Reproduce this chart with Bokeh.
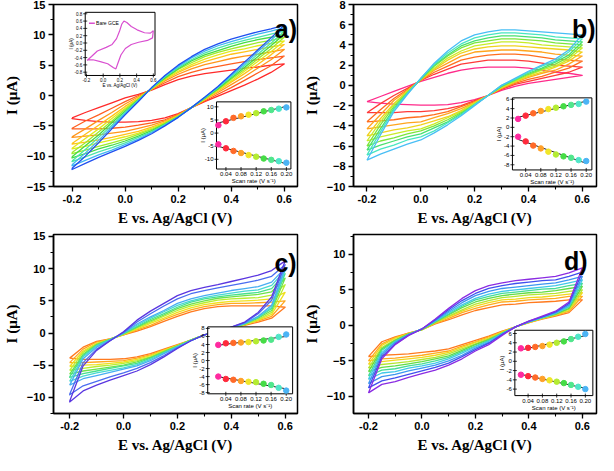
import numpy as np
from bokeh.plotting import figure
from bokeh.models import Range1d, FixedTicker, Label, PrintfTickFormatter
from bokeh.layouts import gridplot
from bokeh.embed import file_html
from bokeh.resources import INLINE
from bokeh.core.properties import value

# ---------------- data ----------------
E_GRID = [-0.2, -0.15, -0.1, -0.05, 0.0, 0.05, 0.1, 0.15, 0.2, 0.25, 0.3,
          0.35, 0.4, 0.45, 0.5, 0.55, 0.6]
SCAN_RATE = [0.02, 0.04, 0.06, 0.08, 0.10, 0.12, 0.14, 0.16, 0.18, 0.20]

# panel a: forward (upper) and reverse (lower) branches, I (uA) at E_GRID
A_UP = [
    [-3.7, -2.8, -2.0, -1.2, -0.4, 0.2, 0.9, 1.8, 2.6, 3.2, 3.6, 3.9, 4.2, 4.5, 4.7, 5.0, 5.2],
    [-5.4, -4.2, -3.2, -2.1, -1.0, 0.0, 1.0, 2.1, 3.1, 3.8, 4.4, 4.8, 5.2, 5.6, 5.9, 6.2, 6.5],
    [-6.8, -5.5, -4.1, -2.8, -1.4, -0.2, 1.0, 2.4, 3.5, 4.4, 5.1, 5.6, 6.1, 6.5, 6.8, 7.2, 7.6],
    [-7.9, -6.4, -4.9, -3.4, -1.8, -0.4, 1.1, 2.6, 3.8, 4.8, 5.6, 6.2, 6.8, 7.2, 7.6, 8.0, 8.4],
    [-8.7, -7.1, -5.5, -3.8, -2.1, -0.5, 1.1, 2.7, 4.0, 5.1, 6.0, 6.7, 7.3, 7.7, 8.2, 8.6, 9.0],
    [-9.4, -7.8, -6.0, -4.2, -2.3, -0.6, 1.2, 2.8, 4.3, 5.4, 6.4, 7.1, 7.7, 8.2, 8.7, 9.1, 9.6],
    [-10.1, -8.3, -6.5, -4.5, -2.6, -0.7, 1.2, 2.9, 4.4, 5.7, 6.7, 7.4, 8.1, 8.7, 9.2, 9.6, 10.1],
    [-10.8, -8.9, -6.9, -4.9, -2.8, -0.8, 1.2, 3.1, 4.6, 5.9, 7.0, 7.8, 8.5, 9.1, 9.6, 10.1, 10.6],
    [-11.4, -9.5, -7.4, -5.2, -3.0, -0.9, 1.3, 3.2, 4.8, 6.2, 7.3, 8.2, 8.9, 9.5, 10.1, 10.6, 11.2],
    [-12.0, -10.0, -7.8, -5.5, -3.2, -1.0, 1.3, 3.3, 5.0, 6.4, 7.6, 8.5, 9.3, 9.9, 10.5, 11.0, 11.6],
]
A_LO = [
    [-3.8, -4.1, -4.3, -4.4, -4.4, -4.3, -4.1, -3.7, -3.0, -2.0, -1.0, -0.1, 0.8, 1.7, 2.7, 3.8, 5.2],
    [-5.5, -5.5, -5.5, -5.4, -5.2, -4.9, -4.5, -4.0, -3.1, -2.0, -0.9, 0.2, 1.3, 2.5, 3.7, 4.9, 6.5],
    [-6.9, -6.7, -6.5, -6.2, -5.9, -5.4, -4.9, -4.2, -3.2, -2.0, -0.7, 0.5, 1.8, 3.1, 4.5, 5.9, 7.6],
    [-8.0, -7.7, -7.3, -6.9, -6.4, -5.9, -5.2, -4.4, -3.3, -2.0, -0.7, 0.7, 2.2, 3.6, 5.1, 6.7, 8.4],
    [-8.8, -8.4, -7.8, -7.3, -6.8, -6.2, -5.4, -4.5, -3.4, -2.0, -0.6, 0.9, 2.4, 4.0, 5.6, 7.2, 9.0],
    [-9.6, -9.0, -8.4, -7.8, -7.2, -6.4, -5.6, -4.6, -3.4, -2.0, -0.5, 1.0, 2.7, 4.3, 6.0, 7.7, 9.6],
    [-10.3, -9.6, -8.8, -8.2, -7.5, -6.7, -5.8, -4.7, -3.5, -2.0, -0.5, 1.1, 2.9, 4.6, 6.4, 8.2, 10.1],
    [-10.9, -10.1, -9.3, -8.6, -7.8, -6.9, -6.0, -4.8, -3.5, -2.0, -0.4, 1.3, 3.1, 4.9, 6.8, 8.6, 10.6],
    [-11.6, -10.7, -9.8, -9.0, -8.1, -7.2, -6.1, -4.9, -3.6, -2.0, -0.3, 1.4, 3.3, 5.2, 7.2, 9.1, 11.2],
    [-12.2, -11.2, -10.2, -9.3, -8.4, -7.4, -6.3, -5.0, -3.6, -2.0, -0.3, 1.5, 3.5, 5.5, 7.5, 9.5, 11.6],
]
B_UP = [
    [-1.6, -1.1, -0.6, -0.1, 0.4, 0.8, 1.2, 1.5, 1.7, 1.8, 1.8, 1.8, 1.7, 1.5, 1.3, 1.2, 1.0],
    [-2.7, -1.8, -1.0, -0.3, 0.5, 1.1, 1.6, 2.1, 2.3, 2.5, 2.5, 2.5, 2.4, 2.2, 2.0, 1.9, 1.8],
    [-3.6, -2.4, -1.3, -0.4, 0.5, 1.3, 1.9, 2.5, 2.8, 3.0, 3.1, 3.1, 3.0, 2.8, 2.6, 2.5, 2.4],
    [-4.3, -2.9, -1.5, -0.5, 0.5, 1.5, 2.2, 2.9, 3.3, 3.4, 3.5, 3.5, 3.4, 3.3, 3.1, 3.0, 2.9],
    [-5.0, -3.3, -1.8, -0.6, 0.6, 1.6, 2.5, 3.2, 3.6, 3.8, 3.9, 3.9, 3.8, 3.7, 3.6, 3.5, 3.3],
    [-5.5, -3.6, -1.9, -0.6, 0.6, 1.7, 2.7, 3.4, 3.9, 4.1, 4.3, 4.3, 4.2, 4.0, 3.9, 3.8, 3.7],
    [-6.0, -3.9, -2.1, -0.7, 0.6, 1.9, 2.9, 3.7, 4.2, 4.4, 4.6, 4.6, 4.5, 4.4, 4.2, 4.1, 4.0],
    [-6.4, -4.3, -2.3, -0.8, 0.6, 2.0, 3.0, 3.9, 4.4, 4.7, 4.9, 4.9, 4.8, 4.7, 4.5, 4.4, 4.3],
    [-6.9, -4.6, -2.4, -0.8, 0.7, 2.1, 3.2, 4.1, 4.7, 5.0, 5.2, 5.2, 5.1, 5.0, 4.8, 4.7, 4.6],
    [-7.4, -4.9, -2.6, -0.9, 0.7, 2.2, 3.4, 4.4, 5.0, 5.3, 5.5, 5.5, 5.4, 5.3, 5.2, 5.1, 5.0],
]
B_LO = [
    [-1.6, -1.75, -1.85, -1.9, -1.95, -1.95, -1.9, -1.7, -1.4, -1.0, -0.5, -0.1, 0.2, 0.4, 0.6, 0.8, 1.0],
    [-2.7, -2.7, -2.7, -2.6, -2.6, -2.5, -2.3, -2.0, -1.5, -1.0, -0.4, 0.1, 0.4, 0.7, 1.0, 1.3, 1.8],
    [-3.6, -3.5, -3.4, -3.2, -3.1, -2.9, -2.6, -2.1, -1.6, -1.0, -0.3, 0.2, 0.6, 0.9, 1.3, 1.7, 2.4],
    [-4.3, -4.1, -3.9, -3.7, -3.6, -3.2, -2.8, -2.3, -1.7, -1.0, -0.3, 0.3, 0.8, 1.2, 1.5, 2.1, 2.9],
    [-5.0, -4.7, -4.4, -4.2, -3.9, -3.5, -3.1, -2.5, -1.7, -1.0, -0.2, 0.4, 0.9, 1.3, 1.8, 2.4, 3.3],
    [-5.5, -5.1, -4.8, -4.5, -4.3, -3.8, -3.2, -2.6, -1.8, -1.0, -0.2, 0.4, 1.0, 1.5, 1.9, 2.6, 3.7],
    [-6.0, -5.5, -5.2, -4.8, -4.5, -4.0, -3.4, -2.7, -1.9, -1.0, -0.1, 0.5, 1.1, 1.6, 2.1, 2.8, 4.0],
    [-6.4, -5.9, -5.5, -5.1, -4.8, -4.2, -3.6, -2.8, -1.9, -1.0, -0.1, 0.6, 1.2, 1.7, 2.3, 3.0, 4.3],
    [-6.9, -6.3, -5.9, -5.4, -5.1, -4.5, -3.7, -2.9, -1.9, -1.0, 0.0, 0.6, 1.3, 1.9, 2.4, 3.3, 4.6],
    [-7.4, -6.8, -6.3, -5.8, -5.4, -4.7, -3.9, -3.0, -2.0, -1.0, 0.0, 0.7, 1.4, 2.0, 2.6, 3.5, 5.0],
]
C_UP = [
    [-3.9, -2.2, -1.3, -0.9, -0.3, 0.3, 1.0, 1.8, 2.6, 3.3, 3.8, 4.1, 4.2, 4.2, 4.2, 4.2, 4.0],
    [-4.6, -2.5, -1.4, -0.9, -0.3, 0.5, 1.2, 2.1, 2.9, 3.6, 4.1, 4.4, 4.6, 4.6, 4.7, 4.8, 5.0],
    [-5.2, -2.8, -1.6, -1.0, -0.2, 0.6, 1.5, 2.3, 3.2, 3.9, 4.4, 4.7, 4.9, 5.0, 5.1, 5.3, 6.3],
    [-5.8, -3.0, -1.7, -1.0, -0.2, 0.8, 1.7, 2.6, 3.5, 4.2, 4.7, 5.1, 5.3, 5.4, 5.5, 5.9, 7.5],
    [-6.4, -3.3, -1.8, -1.0, -0.1, 0.9, 1.9, 2.8, 3.8, 4.5, 5.0, 5.4, 5.6, 5.8, 6.0, 6.4, 8.5],
    [-6.8, -3.5, -1.9, -1.0, -0.1, 1.0, 2.1, 3.0, 4.0, 4.8, 5.3, 5.6, 5.9, 6.1, 6.3, 6.9, 9.2],
    [-7.5, -3.7, -2.0, -1.1, 0.0, 1.2, 2.3, 3.3, 4.3, 5.0, 5.5, 5.9, 6.2, 6.5, 6.7, 7.4, 9.7],
    [-8.1, -4.0, -2.2, -1.1, 0.0, 1.4, 2.5, 3.5, 4.6, 5.3, 5.8, 6.2, 6.6, 6.9, 7.2, 7.9, 10.1],
    [-9.5, -4.6, -2.5, -1.2, 0.1, 1.7, 3.0, 4.2, 5.3, 6.1, 6.6, 7.0, 7.4, 7.8, 8.2, 8.8, 10.6],
    [-10.6, -5.1, -2.7, -1.2, 0.2, 2.0, 3.4, 4.6, 5.8, 6.6, 7.1, 7.5, 8.0, 8.5, 9.0, 9.7, 11.2],
]
C_LO = [
    [-3.9, -4.1, -4.1, -4.1, -4.0, -3.7, -3.2, -2.5, -1.8, -1.1, -0.3, 0.2, 0.7, 1.2, 1.7, 2.3, 4.0],
    [-4.6, -4.6, -4.5, -4.4, -4.3, -3.9, -3.4, -2.6, -1.9, -1.1, -0.3, 0.2, 0.7, 1.3, 1.9, 2.6, 5.0],
    [-5.2, -5.0, -4.9, -4.7, -4.5, -4.1, -3.5, -2.7, -1.9, -1.1, -0.3, 0.2, 0.7, 1.3, 2.0, 2.9, 6.3],
    [-5.8, -5.5, -5.2, -5.0, -4.7, -4.3, -3.7, -2.8, -2.0, -1.1, -0.3, 0.2, 0.8, 1.3, 2.1, 3.2, 7.5],
    [-6.4, -5.9, -5.6, -5.3, -5.0, -4.5, -3.8, -2.9, -2.0, -1.1, -0.3, 0.2, 0.8, 1.4, 2.3, 3.5, 8.5],
    [-6.9, -6.3, -5.9, -5.5, -5.1, -4.7, -3.9, -3.0, -2.1, -1.1, -0.3, 0.2, 0.8, 1.4, 2.4, 3.8, 9.2],
    [-7.5, -6.7, -6.2, -5.8, -5.4, -4.9, -4.1, -3.1, -2.1, -1.2, -0.3, 0.2, 0.8, 1.5, 2.5, 4.0, 9.7],
    [-8.1, -7.1, -6.6, -6.1, -5.6, -5.1, -4.3, -3.2, -2.2, -1.2, -0.3, 0.2, 0.8, 1.5, 2.6, 4.3, 10.1],
    [-9.6, -8.2, -7.5, -6.8, -6.2, -5.5, -4.6, -3.5, -2.3, -1.2, -0.3, 0.2, 0.9, 1.6, 3.0, 5.1, 10.6],
    [-10.7, -9.0, -8.1, -7.3, -6.6, -5.9, -4.9, -3.7, -2.4, -1.2, -0.3, 0.3, 0.9, 1.7, 3.2, 5.6, 11.2],
]
D_UP = [
    [-4.4, -2.3, -1.6, -1.1, -0.6, 0.2, 0.8, 1.5, 2.1, 2.5, 2.9, 3.0, 3.2, 3.3, 3.4, 3.6, 3.6],
    [-5.0, -2.6, -1.7, -1.1, -0.6, 0.3, 1.0, 1.8, 2.4, 2.9, 3.3, 3.4, 3.6, 3.7, 3.8, 4.1, 4.1],
    [-5.5, -2.8, -1.8, -1.2, -0.6, 0.4, 1.2, 2.0, 2.7, 3.2, 3.6, 3.7, 3.9, 4.0, 4.2, 4.4, 4.6],
    [-6.0, -3.1, -2.0, -1.2, -0.6, 0.4, 1.3, 2.2, 3.0, 3.5, 3.9, 4.1, 4.3, 4.4, 4.5, 4.8, 5.0],
    [-6.5, -3.3, -2.1, -1.2, -0.6, 0.5, 1.5, 2.5, 3.3, 3.8, 4.2, 4.4, 4.6, 4.7, 4.9, 5.2, 5.5],
    [-7.1, -3.5, -2.2, -1.3, -0.5, 0.6, 1.6, 2.7, 3.6, 4.1, 4.5, 4.7, 4.9, 5.1, 5.2, 5.6, 5.9],
    [-7.6, -3.8, -2.3, -1.3, -0.5, 0.6, 1.8, 2.9, 3.8, 4.4, 4.8, 5.0, 5.2, 5.4, 5.6, 6.0, 6.4],
    [-8.2, -4.1, -2.4, -1.3, -0.5, 0.7, 2.0, 3.2, 4.2, 4.8, 5.2, 5.4, 5.6, 5.8, 6.0, 6.4, 6.9],
    [-8.8, -4.4, -2.6, -1.4, -0.5, 0.8, 2.2, 3.5, 4.5, 5.2, 5.6, 5.9, 6.1, 6.3, 6.4, 6.9, 7.5],
    [-9.5, -4.7, -2.7, -1.4, -0.5, 0.9, 2.4, 3.8, 4.9, 5.6, 6.0, 6.3, 6.5, 6.7, 6.9, 7.4, 8.1],
]
D_LO = [
    [-4.4, -4.2, -4.1, -4.0, -3.8, -3.6, -3.3, -2.7, -2.1, -1.5, -0.8, -0.2, 0.4, 0.9, 1.3, 1.8, 3.6],
    [-5.0, -4.7, -4.6, -4.4, -4.2, -3.9, -3.6, -2.9, -2.3, -1.6, -0.9, -0.2, 0.4, 1.0, 1.4, 2.0, 4.1],
    [-5.5, -5.1, -4.9, -4.7, -4.5, -4.2, -3.8, -3.1, -2.4, -1.8, -0.9, -0.2, 0.4, 1.0, 1.5, 2.1, 4.6],
    [-6.0, -5.5, -5.3, -5.1, -4.8, -4.5, -4.0, -3.3, -2.6, -1.9, -1.0, -0.2, 0.5, 1.0, 1.5, 2.3, 5.0],
    [-6.5, -5.9, -5.7, -5.4, -5.1, -4.7, -4.3, -3.5, -2.7, -2.0, -1.1, -0.2, 0.5, 1.1, 1.6, 2.4, 5.5],
    [-7.1, -6.3, -6.1, -5.7, -5.4, -5.0, -4.5, -3.7, -2.9, -2.1, -1.1, -0.2, 0.5, 1.1, 1.7, 2.6, 5.9],
    [-7.6, -6.7, -6.5, -6.0, -5.7, -5.3, -4.7, -3.9, -3.0, -2.2, -1.2, -0.2, 0.5, 1.1, 1.7, 2.7, 6.4],
    [-8.2, -7.2, -6.9, -6.4, -6.0, -5.6, -5.0, -4.2, -3.2, -2.4, -1.2, -0.2, 0.5, 1.2, 1.8, 2.9, 6.9],
    [-8.8, -7.8, -7.4, -6.9, -6.4, -5.9, -5.3, -4.4, -3.4, -2.5, -1.3, -0.2, 0.6, 1.2, 1.9, 3.1, 7.5],
    [-9.5, -8.3, -7.9, -7.3, -6.8, -6.3, -5.6, -4.7, -3.6, -2.7, -1.4, -0.2, 0.6, 1.3, 2.0, 3.3, 8.1],
]

# inset peak currents vs scan rate
A_IPA = [3.0, 4.5, 5.8, 6.4, 7.0, 7.6, 8.3, 8.8, 9.3, 9.8]
A_IPC = [-4.3, -5.8, -6.8, -7.6, -8.4, -9.0, -9.7, -10.2, -10.7, -11.3]
B_IPA = [1.8, 2.5, 3.0, 3.5, 3.9, 4.2, 4.5, 4.8, 5.0, 5.5]
B_IPC = [-2.0, -3.0, -3.9, -4.5, -5.2, -5.8, -6.2, -6.5, -7.0, -7.2]
C_IPA = [3.9, 4.3, 4.4, 4.5, 4.6, 4.8, 5.0, 5.2, 5.9, 6.5]
C_IPC = [-4.0, -4.6, -4.8, -5.1, -5.3, -5.4, -5.8, -6.1, -6.8, -7.5]
D_IPA = [2.8, 2.9, 3.1, 3.3, 3.6, 4.0, 4.3, 4.8, 5.3, 5.9]
D_IPC = [-2.9, -3.2, -3.5, -3.8, -4.1, -4.4, -4.7, -5.1, -5.5, -6.0]

# bare GCE inset (panel a)
GCE_E = [-0.193, -0.14, -0.07, 0.036, 0.107, 0.16, 0.195, 0.223, 0.248, 0.283, 0.336,
         0.406, 0.494, 0.565, 0.6, 0.59, 0.53, 0.424, 0.336, 0.265, 0.212, 0.177,
         0.152, 0.124, 0.054, -0.034, -0.122, -0.182, -0.193]
GCE_I = [-0.48, -0.37, -0.22, -0.12, -0.04, 0.12, 0.32, 0.52, 0.60, 0.56, 0.45,
         0.36, 0.28, 0.27, 0.34, 0.14, 0.07, 0.02, -0.04, -0.15, -0.33, -0.55,
         -0.71, -0.68, -0.57, -0.51, -0.46, -0.46, -0.48]

A_COLORS = ["#ff2a2a", "#ff5e1f", "#ff961a", "#ffc21a", "#e4ea1c", "#9eea2c",
            "#44dc44", "#4ee6a6", "#3fb6f2", "#2050f0"]
B_COLORS = ["#ff2a8a", "#ff3a3a", "#ff6e1e", "#ffa51e", "#f0d21e", "#c8ec28",
            "#7ce63c", "#48e070", "#48e6c0", "#48bef5"]
C_COLORS = ["#ff7a1e", "#ffa81e", "#f0e01e", "#b8ee30", "#6ee24a", "#48e08c",
            "#48d8d0", "#48aef2", "#4a6cf0", "#5a36e0"]
D_COLORS = ["#ff7a1e", "#ffaa1e", "#f2d81e", "#b4e632", "#62dc46", "#46dc96",
            "#40c8e8", "#3c96f0", "#4050ee", "#8a2be2"]
INSET_COLORS = ["#ff2aa0", "#ff2a3c", "#ff6a28", "#ffa028", "#f0e628", "#b4ec32",
                "#46dc46", "#50e68c", "#50e6c8", "#4bb4f5"]

SANS = "Liberation Sans"
SERIF = "Liberation Serif"


def make_panel(up, lo, colors, xr, yr, yticks, yminor, letter, letter_xy,
               width, height, bl, br, bt, bb):
    p = figure(width=width, height=height, output_backend="svg",
               toolbar_location=None, x_range=Range1d(*xr), y_range=Range1d(*yr),
               min_border_left=bl, min_border_right=br, min_border_top=bt,
               min_border_bottom=bb)
    p.grid.visible = False
    p.outline_line_color = "black"
    p.outline_line_width = 1.5
    p.background_fill_color = "white"
    p.border_fill_color = "white"
    p.xaxis.ticker = FixedTicker(ticks=[-0.2, 0.0, 0.2, 0.4, 0.6],
                                 minor_ticks=[-0.2, -0.1, 0.0, 0.1, 0.2, 0.3, 0.4, 0.5, 0.6])
    p.xaxis.formatter = PrintfTickFormatter(format="%.1f")
    p.yaxis.ticker = FixedTicker(ticks=yticks, minor_ticks=yminor)
    for ax in (p.xaxis, p.yaxis):
        ax.axis_line_width = 1.5
        ax.major_tick_line_width = 1.3
        ax.minor_tick_line_width = 1.1
        ax.major_tick_out = 5
        ax.major_tick_in = 0
        ax.minor_tick_out = 3
        ax.minor_tick_in = 0
        ax.major_label_text_font = SANS
        ax.major_label_text_font_style = "bold"
        ax.major_label_text_font_size = "11px"
        ax.major_label_text_color = "black"
        ax.major_label_standoff = 3
        ax.axis_label_text_font = SERIF
        ax.axis_label_text_font_style = "bold"
        ax.axis_label_text_font_size = "15px"
        ax.axis_label_text_color = "black"
        ax.axis_label_standoff = 4
    p.xaxis.axis_label = "E vs. Ag/AgCl (V)"
    p.yaxis.axis_label = "I (\u03bcA)"

    for u, l, c in zip(up, lo, colors):
        xs = list(E_GRID) + list(E_GRID[::-1]) + [E_GRID[0]]
        ys = list(u) + list(l[::-1]) + [u[0]]
        p.line(xs, ys, line_color=c, line_width=1.3, line_join="round")

    p.add_layout(Label(x=letter_xy[0], y=letter_xy[1], text=letter,
                       text_align="right", text_baseline="top",
                       text_font=SANS, text_font_style="bold",
                       text_font_size="25px", text_color="black"))
    return p


def add_inset(p, name, frac, xr, yr):
    fx0, fx1, fy0, fy1 = frac
    sx = (xr[1] - xr[0]) / (fx1 - fx0)
    sy = (yr[1] - yr[0]) / (fy1 - fy0)
    p.extra_x_ranges = {**p.extra_x_ranges,
                        name: Range1d(xr[0] - fx0 * sx, xr[0] + (1 - fx0) * sx)}
    p.extra_y_ranges = {**p.extra_y_ranges,
                        name: Range1d(yr[0] - fy0 * sy, yr[0] + (1 - fy0) * sy)}
    kw = dict(x_range_name=name, y_range_name=name)
    p.quad(left=[xr[0]], right=[xr[1]], bottom=[yr[0]], top=[yr[1]],
           fill_color="white", line_color="black", line_width=1, **kw)
    return kw


def inset_axes(p, kw, xr, yr, xticks, xlabels, yticks, ylabels, xlab, ylab,
               fs="6px", ylab_off=-13, xlab_off=12):
    p.scatter(x=[xr[0]] * len(yticks), y=yticks, marker="dash", size=4,
              line_color="black", line_width=0.8, **kw)
    p.scatter(x=xticks, y=[yr[0]] * len(xticks), marker="dash", angle=np.pi / 2,
              size=4, line_color="black", line_width=0.8, **kw)
    p.text(x=[xr[0]] * len(yticks), y=yticks, text=ylabels, x_offset=-3,
           text_align="right", text_baseline="middle", text_font_size=fs,
           text_font=value(SANS), text_color="black", **kw)
    p.text(x=xticks, y=[yr[0]] * len(xticks), text=xlabels, y_offset=5,
           text_align="center", text_baseline="middle", text_font_size=fs,
           text_font=value(SANS), text_color="black", **kw)
    p.text(x=[xr[0]], y=[(yr[0] + yr[1]) / 2], text=[ylab], angle=np.pi / 2,
           x_offset=ylab_off, text_align="center", text_baseline="middle",
           text_font_size=fs, text_font=value(SANS), text_color="black", **kw)
    p.text(x=[(xr[0] + xr[1]) / 2], y=[yr[0]], text=[xlab], y_offset=xlab_off,
           text_align="center", text_baseline="middle", text_font_size=fs,
           text_font=value(SANS), text_color="black", **kw)


def scan_inset(p, name, frac, xr, yr, yticks, ipa, ipc):
    kw = add_inset(p, name, frac, xr, yr)
    xt = [0.04, 0.08, 0.12, 0.16, 0.20]
    inset_axes(p, kw, xr, yr, xt, ["%.2f" % v for v in xt], yticks,
               ["%d" % v for v in yticks], "Scan rate (V s\u207b\u00b9)", "I (\u03bcA)")
    for vals in (ipa, ipc):
        m, b = np.polyfit(SCAN_RATE, vals, 1)
        lx = [SCAN_RATE[0], SCAN_RATE[-1]]
        p.line(lx, [m * v + b for v in lx], line_color="#222222", line_width=1, **kw)
        p.scatter(SCAN_RATE, vals, size=5.5, fill_color=INSET_COLORS,
                  line_color=INSET_COLORS, **kw)


# ---------------- panels ----------------
pa = make_panel(A_UP, A_LO, A_COLORS, (-0.27, 0.65), (-15, 15),
                [-15, -10, -5, 0, 5, 10, 15],
                [-15, -12.5, -10, -7.5, -5, -2.5, 0, 2.5, 5, 7.5, 10, 12.5, 15],
                "a)", (0.648, 13.3), 300, 228, 39, 3, 4, 40)
pb = make_panel(B_UP, B_LO, B_COLORS, (-0.25, 0.653), (-10, 8),
                [-10, -8, -6, -4, -2, 0, 2, 4, 6, 8],
                [-10, -9, -8, -7, -6, -5, -4, -3, -2, -1, 0, 1, 2, 3, 4, 5, 6, 7, 8],
                "b)", (0.65, 7.0), 298, 228, 47, 2, 4, 40)
pc = make_panel(C_UP, C_LO, C_COLORS, (-0.26, 0.646), (-12.5, 15.3),
                [-10, -5, 0, 5, 10, 15],
                [-12.5, -10, -7.5, -5, -2.5, 0, 2.5, 5, 7.5, 10, 12.5, 15],
                "c)", (0.643, 13.0), 300, 227, 39, 3, 6, 40)
pd = make_panel(D_UP, D_LO, D_COLORS, (-0.256, 0.653), (-12.4, 12.8),
                [-10, -5, 0, 5, 10],
                [-10, -7.5, -5, -2.5, 0, 2.5, 5, 7.5, 10, 12.5],
                "d)", (0.62, 11.0), 298, 227, 47, 2, 6, 40)

# bare GCE inset in panel a
kg = add_inset(pa, "gce", (0.130, 0.416, 0.610, 0.957), (-0.215, 0.62), (-0.89, 0.84))
gx = [-0.2, 0.0, 0.2, 0.4, 0.6]
gy = [-0.8, -0.6, -0.4, -0.2, 0.0, 0.2, 0.4, 0.6, 0.8]
inset_axes(pa, kg, (-0.215, 0.62), (-0.89, 0.84), gx, ["%.1f" % v for v in gx],
           gy, ["%.1f" % v for v in gy], "E vs. Ag/AgCl (V)", "I (\u03bcA)",
           fs="4.5px", ylab_off=-14, xlab_off=10)
pa.line(GCE_E, GCE_I, line_color="#d94fd0", line_width=1.2, **kg)
pa.line([-0.17, -0.1], [0.54, 0.54], line_color="#d94fd0", line_width=1.5, **kg)
pa.text(x=[-0.085], y=[0.54], text=["Bare GCE"], text_align="left",
        text_baseline="middle", text_font_size="5px", text_font=value(SANS),
        text_color="black", **kg)

scan_inset(pa, "ia", (0.668, 0.973, 0.096, 0.465), (0.015, 0.212), (-13.7, 11.9),
           [-10, -5, 0, 5, 10], A_IPA, A_IPC)
scan_inset(pb, "ib", (0.654, 0.981, 0.091, 0.487), (0.005, 0.215), (-9.1, 6.3),
           [-8, -6, -4, -2, 0, 2, 4, 6], B_IPA, B_IPC)
scan_inset(pc, "ic", (0.632, 0.980, 0.110, 0.484), (-0.008, 0.217), (-8.3, 8.4),
           [-8, -6, -4, -2, 0, 2, 4, 6, 8], C_IPA, C_IPC)
scan_inset(pd, "id", (0.664, 0.985, 0.100, 0.465), (0.003, 0.221), (-7.4, 6.7),
           [-6, -4, -2, 0, 2, 4, 6], D_IPA, D_IPC)

grid = gridplot([[pa, pb], [pc, pd]], toolbar_location=None)
open("out.html", "w").write(file_html(grid, INLINE))
